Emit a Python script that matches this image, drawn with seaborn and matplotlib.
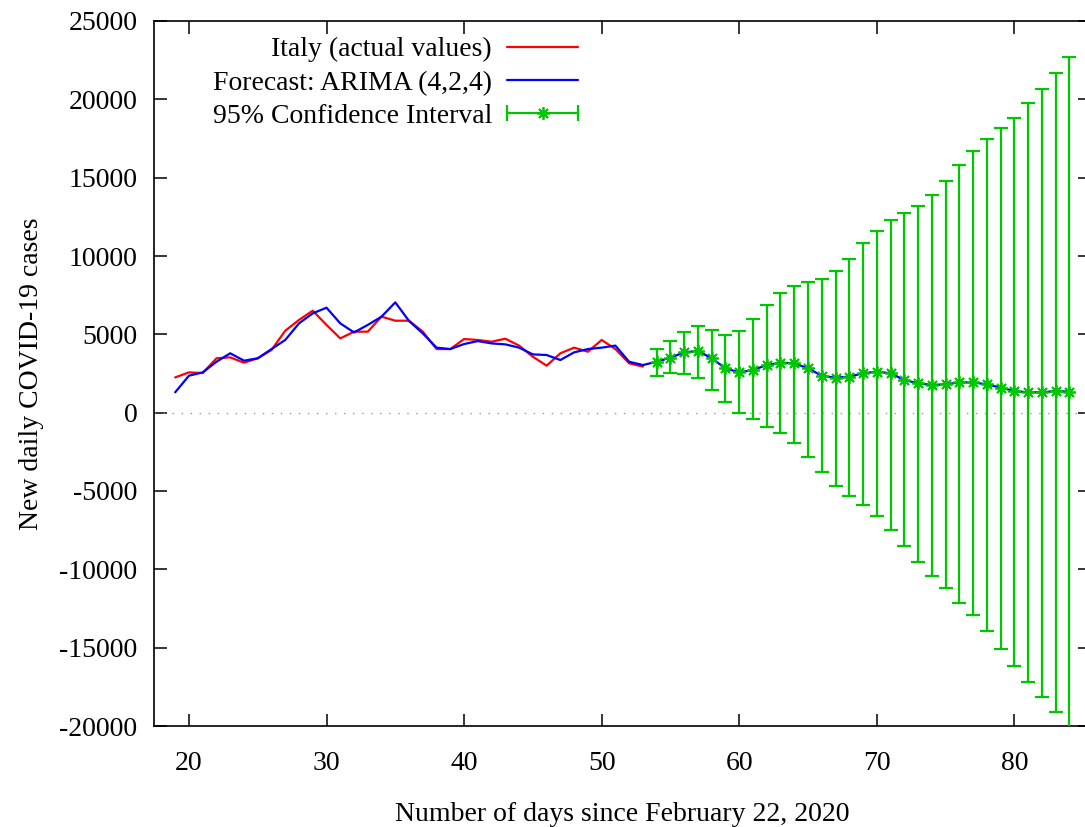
import matplotlib
matplotlib.use("Agg")
import matplotlib.pyplot as plt
from matplotlib.lines import Line2D
from matplotlib.legend_handler import HandlerLine2D, HandlerTuple
import numpy as np
import pandas as pd
import seaborn as sns

# dias desde 22/02/2020
dias_reais = list(range(19, 54))
italia = [2250, 2570, 2530, 3470, 3530, 3190, 3470, 4000, 5230, 5920,
          6510, 5600, 4740, 5170, 5170, 6130, 5870, 5870, 5170, 4060,
          4060, 4700, 4640, 4530, 4720, 4280, 3570, 3000, 3790, 4150,
          3890, 4640, 4060, 3150, 2940]

dias_previsao = list(range(19, 85))
previsao = [1300, 2360, 2570, 3250, 3790, 3320, 3470, 4060, 4640, 5700,
            6340, 6700, 5700, 5120, 5600, 6130, 7040, 5850, 5060, 4150,
            4060, 4380, 4570, 4420, 4360, 4150, 3720, 3680, 3360, 3850,
            4060, 4150, 4280, 3250, 3040,
            3250, 3510, 3850, 3940, 3470, 2830, 2570, 2720, 3040, 3190,
            3150, 2830, 2360, 2230, 2300, 2510, 2620, 2510, 2090, 1870,
            1770, 1810, 1930, 1930, 1810, 1600, 1380, 1300, 1300, 1380,
            1340]

dias_ic = list(range(54, 85))
ic_superior = [4040, 4590, 5170, 5530, 5280, 4960, 5210, 5980, 6850, 7660,
               8100, 8340, 8550, 9020, 9810, 10830, 11600, 12270, 12720, 13190,
               13870, 14770, 15790, 16700, 17470, 18150, 18830, 19760, 20660, 21660,
               22700]
ic_inferior = [2360, 2510, 2450, 2230, 1450, 700, 0, -430, -930, -1280,
               -1960, -2850, -3770, -4660, -5340, -5920, -6590, -7490, -8510, -9530,
               -10420, -11210, -12130, -12910, -13940, -15070, -16190, -17190, -18130, -19130,
               -20300]

VERMELHO = "#ff0000"
AZUL = "#0000ff"
VERDE = "#00c800"
FONTE = 20

sns.set_theme(style="ticks")
plt.rcParams["font.family"] = ["Liberation Serif", "DejaVu Serif"]
plt.rcParams["font.size"] = FONTE
plt.rcParams["axes.unicode_minus"] = False
plt.rcParams["text.color"] = "black"
plt.rcParams["axes.labelcolor"] = "black"

fig = plt.figure(figsize=(10.85, 8.27), dpi=100)
ax = fig.add_axes([154 / 1085, 1 - 726 / 827, (1090 - 154) / 1085, (726 - 21) / 827])

ax.axhline(0, color="#999999", lw=1.0, ls=(0, (1, 5.5)), zorder=1)

df_real = pd.DataFrame({"dia": dias_reais, "casos": italia})
df_prev = pd.DataFrame({"dia": dias_previsao, "casos": previsao})
sns.lineplot(data=df_real, x="dia", y="casos", color=VERMELHO, lw=1.6, ax=ax, zorder=3)
sns.lineplot(data=df_prev, x="dia", y="casos", color=AZUL, lw=1.6, ax=ax, zorder=3)

media_ic = np.array(previsao[dias_previsao.index(54):])
erro = [media_ic - np.array(ic_inferior), np.array(ic_superior) - media_ic]
ax.errorbar(dias_ic, media_ic, yerr=erro, fmt="none", ecolor=VERDE,
            elinewidth=1.6, capsize=4.8, capthick=1.6, zorder=4)
ax.plot(dias_ic, media_ic, ls="none", marker=(8, 2, 0), ms=9, mew=1.3,
        color=VERDE, zorder=5)

ax.set_xlim(17.46, 85.5)
ax.set_ylim(-20000, 25000)
ax.set_xticks([20, 30, 40, 50, 60, 70, 80])
ax.set_yticks(range(-20000, 25001, 5000))
ax.tick_params(direction="in", length=9, width=1.1, top=True, right=True,
               colors="black", labelsize=FONTE)
ax.tick_params(axis="y", pad=12)
ax.tick_params(axis="x", pad=18)
for lado in ax.spines.values():
    lado.set_color("black")
    lado.set_linewidth(1.2)

ax.set_xlabel("Number of days since February 22, 2020", fontsize=FONTE, labelpad=19)
ax.set_ylabel("New daily COVID-19 cases", fontsize=FONTE, labelpad=11)

# legenda no estilo gnuplot: texto a esquerda, amostra a direita
h_real = Line2D([], [], color=VERMELHO, lw=1.6)
h_prev = Line2D([], [], color=AZUL, lw=1.6)
h_caps = Line2D([], [], color=VERDE, lw=1.6, marker="|", ms=11, mew=1.6)
h_estrela = Line2D([], [], color=VERDE, lw=0, marker=(8, 2, 0), ms=9, mew=1.3)
ax.legend([h_real, h_prev, (h_caps, h_estrela)],
          ["Italy (actual values)", "Forecast: ARIMA (4,2,4)", "95% Confidence Interval"],
          handler_map={h_caps: HandlerLine2D(numpoints=2, marker_pad=0),
                       h_estrela: HandlerLine2D(numpoints=1),
                       tuple: HandlerTuple(ndivide=1)},
          markerfirst=False, frameon=False, loc="upper right",
          bbox_to_anchor=(578 / 1085, 1 - 37 / 827), bbox_transform=fig.transFigure,
          borderpad=0, borderaxespad=0, handlelength=2.55, handletextpad=0.55,
          labelspacing=0.28, fontsize=FONTE)

fig.savefig("out.png", dpi=100)
